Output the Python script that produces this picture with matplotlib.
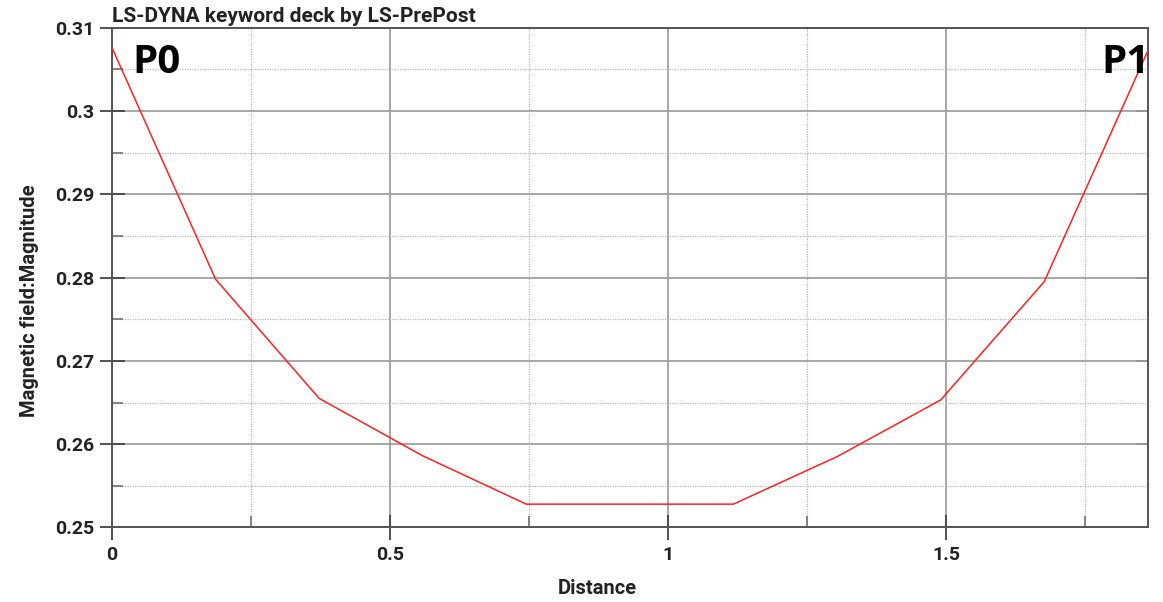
import matplotlib
matplotlib.use("Agg")
import matplotlib.pyplot as plt
from matplotlib.ticker import MultipleLocator, FuncFormatter

# Magnetic field magnitude sampled along the path P0 -> P1
distance = [0.0, 0.1863, 0.3725, 0.5588, 0.7451, 0.9314,
            1.1176, 1.3039, 1.4902, 1.6765, 1.8627]
magnitude = [0.3076, 0.2798, 0.2655, 0.2586, 0.2528, 0.2528,
             0.2528, 0.2585, 0.2653, 0.2795, 0.3072]

title = "LS-DYNA keyword deck by LS-PrePost"
xlabel = "Distance"
ylabel = "Magnetic field:Magnitude"
start_label = "P0"
end_label = "P1"

plt.rcParams["font.family"] = ["Roboto", "DejaVu Sans"]

fig = plt.figure(figsize=(11.63, 6.02), dpi=100)
ax = fig.add_axes([0.0963, 0.1238, 0.8906, 0.8302])

ax.plot(distance, magnitude, color="#ff2020", lw=1.1, zorder=3)

ax.set_xlim(distance[0], distance[-1])
ax.set_ylim(0.25, 0.31)

ax.xaxis.set_major_locator(MultipleLocator(0.5))
ax.xaxis.set_minor_locator(MultipleLocator(0.25))
ax.yaxis.set_major_locator(MultipleLocator(0.01))
ax.yaxis.set_minor_locator(MultipleLocator(0.005))


def fmt(v, _pos):
    s = f"{v:.3f}".rstrip("0").rstrip(".")
    return s


ax.xaxis.set_major_formatter(FuncFormatter(fmt))
ax.yaxis.set_major_formatter(FuncFormatter(fmt))

ax.grid(which="major", color="#a0a0a0", lw=1.3, ls="-", zorder=0)
ax.grid(which="minor", color="#b8b8b8", lw=0.9, ls=(0, (1, 1)), zorder=0)

for sp in ax.spines.values():
    sp.set_color("#555555")
    sp.set_linewidth(1.4)

ax.tick_params(which="major", direction="inout", length=18, width=1.3,
               color="#444444", labelsize=14, pad=4)
ax.tick_params(which="minor", direction="in", length=8, width=1.1,
               color="#666666")
for lab in ax.get_xticklabels() + ax.get_yticklabels():
    lab.set_fontweight("bold")
    lab.set_color("#222222")

# inward ticks on the right edge
sec = ax.secondary_yaxis("right")
sec.yaxis.set_major_locator(MultipleLocator(0.01))
sec.tick_params(which="major", direction="in", length=9, width=1.3,
                color="#444444", labelright=False)
sec.tick_params(which="minor", length=0)
sec.spines["right"].set_visible(False)

ax.set_xlabel(xlabel, fontsize=14.5, fontweight="bold", color="#222222")
ax.set_ylabel(ylabel, fontsize=14.5, fontweight="bold", color="#222222")
ax.xaxis.set_label_coords(0.469, -0.104)
ax.yaxis.set_label_coords(-0.0705, 0.453)
ax.set_title(title, loc="left", fontsize=15, fontweight="bold",
             color="#222222", pad=4)

ax.text(0.02, 0.93, start_label, transform=ax.transAxes, fontsize=29,
        fontweight="bold", family=["Open Sans", "DejaVu Sans"],
        color="black", va="center", ha="left", zorder=4)
ax.text(1.002, 0.93, end_label, transform=ax.transAxes, fontsize=29,
        fontweight="bold", family=["Open Sans", "DejaVu Sans"],
        color="black", va="center", ha="right", zorder=4)

fig.savefig("out.png", dpi=100, facecolor="white")
